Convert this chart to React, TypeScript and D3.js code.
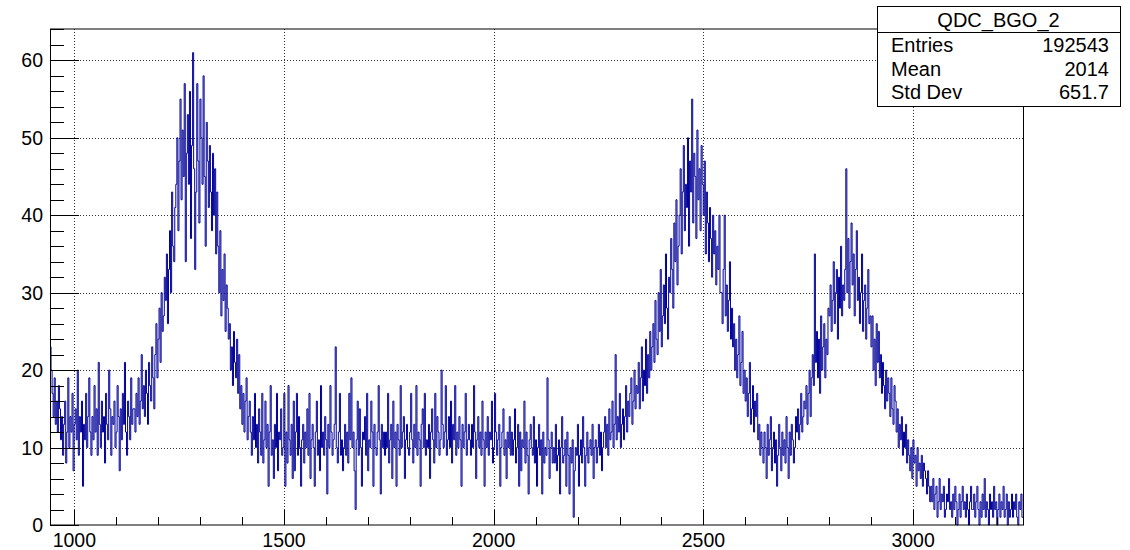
import React from "react";
import * as d3 from "d3";

// Histogram binning (QDC channel units)
const binLow = 942;
const binWidth = 2.5;

// Counts per bin, grouped by region of the spectrum (40 bins = 100 channels per row)
const lowEdge = [
  23, 20, 17, 14, 19, 13, 16, 12, 18, 15, 11, 14, 9, 13, 16, 8, 12, 19, 10, 14, 12, 17, 7, 13, 15, 11, 20, 9, 14, 12, 16, 5, 13, 11, 17, 10, 14, 19, 12, 9,
  14, 11, 18, 12, 15, 9, 21, 13, 10, 16, 12, 14, 8, 17, 13, 11, 20, 15, 9, 14, 13, 16, 10, 12, 18, 14, 7, 15, 11, 17, 13, 21, 12, 9, 16, 14, 11, 19, 13, 15,
];
const firstPeak = [
  15, 12, 17, 14, 19, 13, 16, 22, 15, 18, 14, 20, 17, 13, 21, 18, 16, 23, 19, 15, 22, 26, 19, 24, 28, 21, 30, 25, 27, 32, 29, 35, 26, 33, 38, 30, 43, 36, 34, 41,
  44, 50, 38, 47, 55, 42, 51, 45, 57, 34, 48, 53, 44, 56, 37, 49, 61, 46, 33, 43, 57, 47, 39, 55, 50, 44, 58, 45, 36, 52, 47, 41, 49, 43, 38, 48, 40, 46, 35, 43,
  36, 30, 38, 27, 33, 29, 35, 25, 31, 28, 24, 26, 20, 23, 18, 25, 21, 19, 24, 17, 22, 15, 18, 13, 17, 12, 16, 19, 11, 14, 16, 12, 9, 14, 11, 17, 10, 13, 8, 15,
];
const plateau = [
  12, 9, 17, 8, 11, 16, 10, 13, 5, 12, 18, 9, 11, 6, 13, 10, 17, 7, 12, 11, 15, 9, 10, 17, 5, 12, 8, 18, 11, 9, 13, 6, 16, 7, 12, 17, 9, 14, 10, 5,
  11, 13, 8, 12, 10, 15, 9, 17, 6, 11, 13, 10, 5, 12, 16, 9, 11, 7, 18, 10, 12, 9, 14, 11, 4, 13, 10, 18, 12, 9, 11, 13, 23, 10, 8, 12, 17, 9, 11, 7,
  10, 13, 9, 12, 8, 17, 11, 19, 10, 12, 7, 2, 11, 16, 9, 15, 10, 5, 12, 11, 14, 9, 17, 7, 11, 10, 16, 12, 5, 13, 10, 9, 12, 18, 11, 4, 13, 10, 12, 9,
  12, 10, 17, 8, 11, 13, 6, 16, 10, 12, 5, 13, 11, 9, 18, 10, 12, 14, 6, 11, 13, 10, 9, 12, 17, 11, 8, 13, 10, 18, 9, 12, 11, 5, 13, 15, 10, 17, 9, 11,
  10, 13, 6, 12, 15, 11, 8, 17, 10, 14, 12, 9, 11, 20, 13, 10, 12, 18, 9, 11, 14, 10, 16, 8, 13, 11, 18, 9, 12, 10, 14, 11, 5, 13, 10, 12, 17, 9, 11, 13,
  11, 9, 13, 10, 18, 12, 6, 11, 14, 10, 12, 9, 16, 11, 5, 12, 10, 14, 9, 12, 11, 16, 8, 10, 17, 12, 9, 11, 13, 5, 10, 12, 15, 9, 11, 6, 12, 10, 14, 9,
  12, 9, 11, 15, 8, 10, 13, 5, 12, 7, 11, 10, 16, 8, 12, 9, 4, 11, 13, 10, 9, 14, 8, 11, 5, 10, 13, 9, 11, 4, 12, 8, 10, 9, 19, 11, 6, 10, 12, 8,
  10, 8, 13, 7, 9, 11, 4, 10, 14, 8, 9, 11, 5, 12, 9, 4, 10, 8, 11, 1, 7, 10, 9, 13, 5, 9, 11, 8, 14, 10, 5, 9, 12, 8, 10, 11, 9, 13, 6, 10,
];
const secondPeak = [
  11, 8, 10, 13, 9, 12, 7, 10, 12, 14, 10, 13, 9, 15, 11, 12, 16, 10, 13, 22, 11, 14, 12, 17, 10, 13, 15, 11, 14, 18, 12, 16, 14, 17, 19, 13, 16, 20, 15, 18,
  17, 21, 15, 19, 23, 16, 20, 18, 24, 17, 22, 19, 25, 20, 23, 26, 21, 29, 24, 22, 30, 25, 33, 23, 27, 31, 26, 35, 28, 24, 32, 30, 37, 33, 28, 39, 34, 42, 31, 36,
  40, 46, 35, 43, 49, 38, 44, 41, 50, 36, 47, 43, 55, 39, 48, 45, 37, 51, 42, 46, 38, 49, 44, 40, 47, 35, 43, 39, 34, 41, 37, 32, 40, 35, 38, 31, 36, 33, 40, 30,
  30, 26, 33, 40, 27, 31, 25, 29, 34, 24, 28, 23, 26, 20, 24, 19, 22, 27, 18, 21, 25, 17, 20, 16, 19, 14, 17, 21, 13, 15, 18, 12, 16, 14, 17, 11, 13, 9, 12, 10,
];
const thirdPeak = [
  8, 12, 10, 6, 13, 9, 11, 14, 7, 10, 12, 8, 11, 5, 9, 13, 10, 7, 12, 9, 11, 8, 14, 10, 6, 12, 9, 13, 11, 8, 10, 14, 12, 15, 11, 13, 17, 12, 14, 16,
  15, 18, 13, 17, 20, 14, 19, 22, 18, 35, 21, 25, 19, 24, 17, 27, 20, 23, 26, 19, 24, 22, 28, 27, 31, 25, 29, 34, 26, 30, 33, 24, 32, 28, 36, 27, 31, 29, 33, 46,
  30, 37, 28, 34, 39, 31, 35, 27, 33, 38, 29, 32, 26, 30, 35, 25, 29, 31, 24, 28, 33, 26, 27, 23, 27, 20, 24, 18, 26, 21, 25, 19, 22, 17, 21, 18, 15, 20, 16, 19,
];
const tail = [
  17, 14, 19, 15, 13, 18, 16, 12, 15, 10, 13, 11, 14, 9, 12, 10, 13, 8, 11, 9, 7, 10, 6, 11, 8, 9, 5, 10, 7, 8, 6, 9, 5, 8, 7, 6, 4, 7, 5, 3,
  5, 3, 6, 2, 4, 5, 1, 3, 6, 2, 4, 3, 5, 1, 2, 4, 3, 6, 2, 3, 1, 4, 2, 5, 3, 0, 2, 4, 1, 3, 5, 2, 3, 1, 4, 2, 0, 3, 5, 2,
  2, 4, 1, 3, 5, 2, 0, 3, 1, 4, 2, 6, 1, 3, 2, 0, 4, 2, 3, 1, 5, 2, 3, 0, 2, 4, 1, 3, 2, 5, 1, 2, 4, 0, 3, 1, 2, 4, 1, 3,
  2, 4, 1, 0, 3, 2, 4, 1,
];

const counts = [...lowEdge, ...firstPeak, ...plateau, ...secondPeak, ...thirdPeak, ...tail];

const xTicks = [1000, 1500, 2000, 2500, 3000];
const yTicks = [0, 10, 20, 30, 40, 50, 60];

const histTitle = "QDC_BGO_2";
const statLabels = ["Entries", "Mean", "Std Dev"];
const statValues = ["192543", "2014", "651.7"];

const W = 1130;
const H = 550;
const frame = { left: 50, right: 1023, top: 29, bottom: 525 };
const font = "'Liberation Sans', Arial, Helvetica, sans-serif";

export default function App() {
  const xMax = binLow + counts.length * binWidth;
  const x = d3.scaleLinear().domain([binLow, xMax]).range([frame.left, frame.right]);
  const y = d3.scaleLinear().domain([0, 64.05]).range([frame.bottom, frame.top]);

  const pts: [number, number][] = counts.map((c, i) => [binLow + i * binWidth, c]);
  pts.push([xMax, counts[counts.length - 1]]);
  const path = d3
    .line<[number, number]>()
    .x((d) => x(d[0]))
    .y((d) => y(d[1]))
    .curve(d3.curveStepAfter)(pts) as string;

  const yMinor = d3.range(0, 65, 2).filter((v) => v % 10 !== 0);
  const xMinor = d3.range(1000, 3300, 100).filter((v) => v % 500 !== 0 && v < xMax);

  const sx = 877;
  const sy = 6.5;
  const sw = 243;
  const sh = 100;
  const px = (v: number) => Math.round(x(v)) + 0.5;
  const py = (v: number) => Math.round(y(v)) + 0.5;

  return (
    <svg
      width={W}
      height={H}
      style={{ position: "absolute", left: 0, top: 0, background: "#fff", display: "block" }}
    >
      <rect x={0} y={0} width={W} height={H} fill="#fff" />

      {/* grid */}
      <g stroke="#333" strokeWidth={1} strokeDasharray="1 2">
        {xTicks.map((t) => (
          <line key={"gx" + t} x1={px(t)} x2={px(t)} y1={frame.top} y2={frame.bottom} />
        ))}
        {yTicks.filter((t) => t > 0).map((t) => (
          <line key={"gy" + t} x1={frame.left} x2={frame.right} y1={py(t)} y2={py(t)} />
        ))}
      </g>

      {/* histogram */}
      <path d={path} fill="none" stroke="#000099" strokeWidth={1} />

      {/* frame */}
      <rect
        x={frame.left + 0.5}
        y={frame.top}
        width={frame.right - frame.left}
        height={frame.bottom - frame.top}
        fill="none"
        stroke="#000"
        strokeWidth={1}
      />

      {/* axis ticks */}
      <g stroke="#000" strokeWidth={1}>
        {yTicks.map((t) => (
          <line key={"yt" + t} x1={frame.left} x2={frame.left + 29} y1={py(t)} y2={py(t)} />
        ))}
        {yMinor.map((t) => (
          <line key={"ym" + t} x1={frame.left} x2={frame.left + 14} y1={py(t)} y2={py(t)} />
        ))}
        {xTicks.map((t) => (
          <line key={"xt" + t} x1={px(t)} x2={px(t)} y1={frame.bottom} y2={frame.bottom - 15} />
        ))}
        {xMinor.map((t) => (
          <line key={"xm" + t} x1={px(t)} x2={px(t)} y1={frame.bottom} y2={frame.bottom - 8} />
        ))}
      </g>

      {/* tick labels */}
      <g fontFamily={font} fontSize={19.5} fill="#000">
        {yTicks.map((t) => (
          <text key={"yl" + t} x={43} y={y(t) + 7} textAnchor="end">
            {t}
          </text>
        ))}
        {xTicks.map((t) => (
          <text key={"xl" + t} x={x(t)} y={547} textAnchor="middle">
            {t}
          </text>
        ))}
      </g>

      {/* statistics box */}
      <g fontFamily={font} fill="#000">
        <rect x={sx + 0.5} y={sy} width={sw} height={sh} fill="#fff" stroke="#000" strokeWidth={1} />
        <line x1={sx} x2={sx + sw} y1={32.5} y2={32.5} stroke="#000" strokeWidth={1} />
        <text x={sx + sw / 2} y={26.5} textAnchor="middle" fontSize={20}>
          {histTitle}
        </text>
        {statLabels.map((s, i) => (
          <text key={s} x={891} y={51.7 + i * 23.8} fontSize={20}>
            {s}
          </text>
        ))}
        {statValues.map((s, i) => (
          <text key={s} x={1109} y={51.7 + i * 23.8} fontSize={20} textAnchor="end">
            {s}
          </text>
        ))}
      </g>
    </svg>
  );
}
